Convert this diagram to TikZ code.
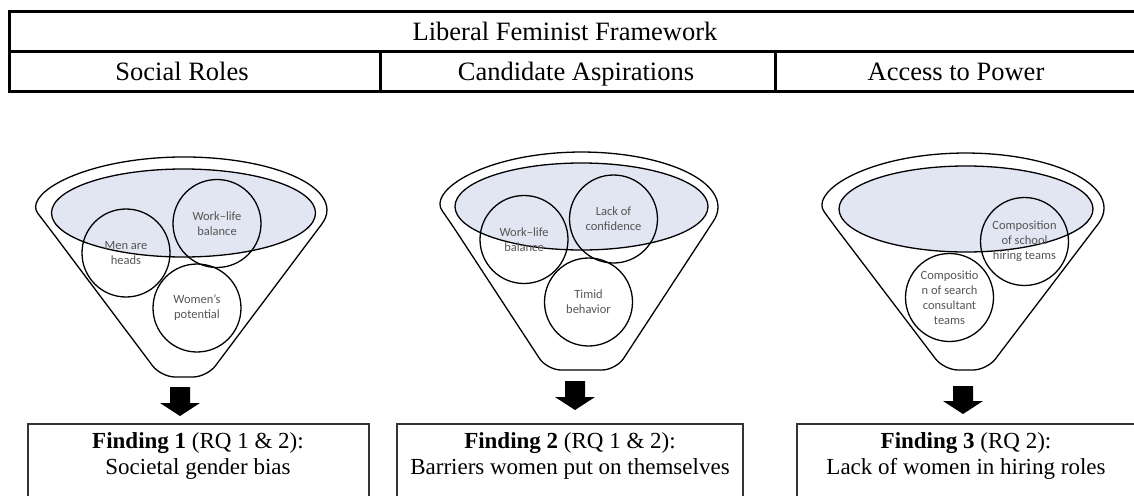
\documentclass[tikz,border=0pt]{standalone}
\usepackage{fontspec}
\setmainfont{Liberation Serif}
\newfontfamily\bubblefont{Carlito}
\definecolor{rimfill}{RGB}{226,229,242}
\definecolor{bubbletext}{RGB}{85,85,85}
\begin{document}
\begin{tikzpicture}[x=1pt,y=-1pt,
		tableline/.style={line width=3pt},
		funnelline/.style={line width=1.3pt},
		bubble/.style={circle,draw,line width=1.3pt,minimum size=88pt,inner sep=0pt,align=center,text=bubbletext,font=\bubblefont\fontsize{12.5}{15}\selectfont},
		headtext/.style={anchor=base,font=\fontsize{26.5}{30}\selectfont},
		findtext/.style={align=center,font=\fontsize{23}{25.5}\selectfont},
		findbox/.style={line width=1.5pt,draw=black!80}]
		\useasboundingbox (0,0) rectangle (1134,495);
		\clip (0,0) rectangle (1134,495);
		% framework table
		\draw[tableline] (9,12) -- (1140,12) (9,52) -- (1140,52) (9,91) -- (1140,91);
		\draw[tableline] (9,10.5) -- (9,92.5) (380,52) -- (380,91) (775,52) -- (775,91);
		\node[headtext] (title) at (565,41) {Liberal Feminist Framework};
		\node[headtext] (roles) at (182,81) {Social Roles};
		\node[headtext] (aspir) at (576,81) {Candidate Aspirations};
		\node[headtext] (power) at (956,81) {Access to Power};
		% funnel 1
		\fill[rimfill] (183.5,213) ellipse [x radius=132, y radius=44];
		\draw[funnelline] (183.5,213) ellipse [x radius=132, y radius=44];
		\draw[funnelline] (46.5,224.6) arc [start angle=164, end angle=376, x radius=143, y radius=53] [rounded corners=14pt] -- (207,377) -- (161,377) -- cycle;
		\node[bubble] (heads) at (126,253) {Men are\\heads};
		\node[bubble] (balance1) at (217,223.5) {Work–life\\balance};
		\node[bubble] (potential) at (197,308) {Women’s\\potential};
		% funnel 2
		\fill[rimfill] (581.5,206.5) ellipse [x radius=126.5, y radius=43.5];
		\draw[funnelline] (581.5,206.5) ellipse [x radius=126.5, y radius=43.5];
		\draw[funnelline] (450.3,222.2) arc [start angle=164, end angle=376, x radius=136.5, y radius=55] [rounded corners=14pt] -- (616,370) -- (547,370) -- cycle;
		\node[bubble] (balance2) at (524,239.5) {Work–life\\balance};
		\node[bubble] (confid) at (613.5,219) {Lack of\\confidence};
		\node[bubble] (timid) at (588.5,302) {Timid\\behavior};
		% funnel 3
		\fill[rimfill] (966,209) ellipse [x radius=127, y radius=43];
		\draw[funnelline] (966,209) ellipse [x radius=127, y radius=43];
		\draw[funnelline] (832.4,223.2) arc [start angle=164, end angle=376, x radius=138.5, y radius=55] [rounded corners=14pt] -- (987,370) -- (944,370) -- cycle;
		\node[bubble] (school) at (1024.5,241.5) {Composition\\of school\\hiring teams};
		\node[bubble] (search) at (949.5,297.5) {Compositio\\n of search\\consultant\\teams};
		% block arrows
		\fill (170,387) -- (190,387) -- (190,403) -- (200,403) -- (180,416) -- (160,403) -- (170,403) -- cycle;
		\fill (565,381) -- (585,381) -- (585,397) -- (595,397) -- (575,410) -- (555,397) -- (565,397) -- cycle;
		\fill (953,386) -- (973,386) -- (973,401) -- (983,401) -- (963,414) -- (943,401) -- (953,401) -- cycle;
		% findings
		\draw[findbox] (28,500) -- (28,424) -- (369,424) -- (369,500);
		\draw[findbox] (397,500) -- (397,424) -- (743,424) -- (743,500);
		\draw[findbox] (797,500) -- (797,424) -- (1140,424);
		\node[findtext] (find1) at (198,456) {\textbf{Finding 1} (RQ 1 \& 2):\\Societal gender bias};
		\node[findtext] (find2) at (570,456) {\textbf{Finding 2} (RQ 1 \& 2):\\Barriers women put on themselves};
		\node[findtext] (find3) at (966,456) {\textbf{Finding 3} (RQ 2):\\Lack of women in hiring roles};
	\end{tikzpicture}
\end{document}
